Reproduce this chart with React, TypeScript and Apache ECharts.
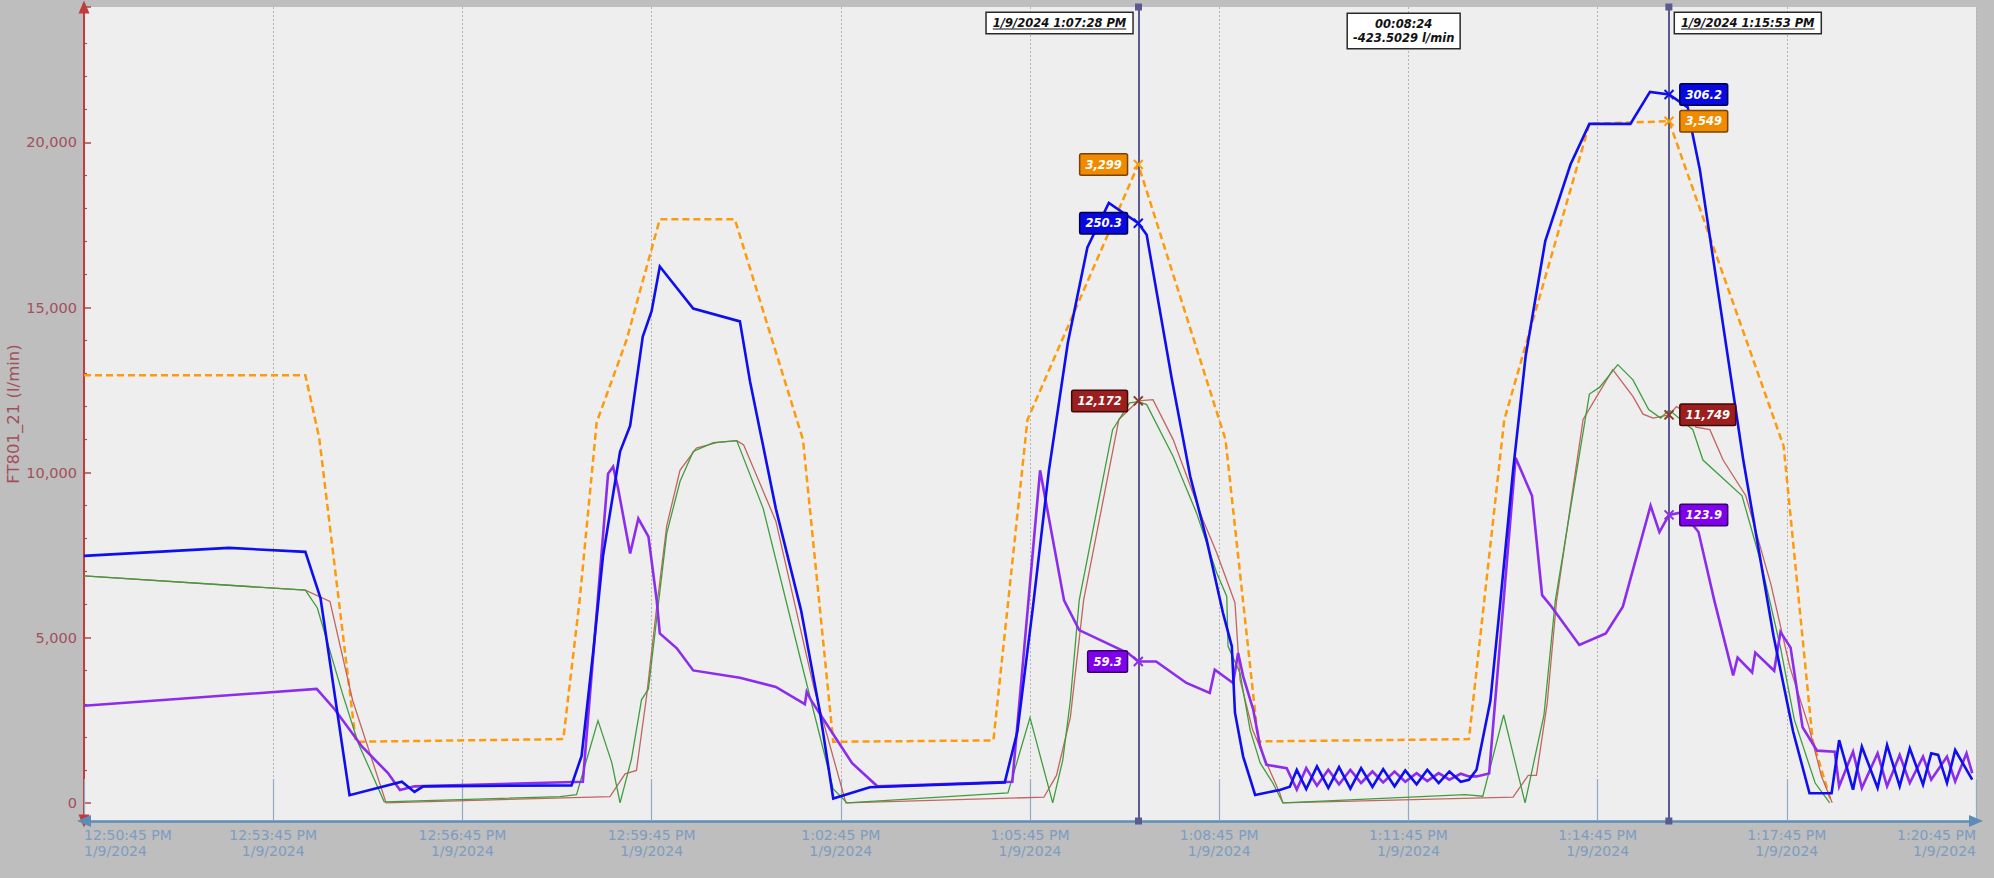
import React, { useEffect, useRef } from "react";
import * as echarts from "echarts";

type Pt = [number, number];

// x values: minutes after 12:50:45 PM on 1/9/2024
const AXIS_START_SEC = 12 * 3600 + 50 * 60 + 45;
const AXIS_DATE = "1/9/2024";
const X_SPAN_MIN = 30;
const X_STEP_MIN = 3;

const Y_MIN = -550;
const Y_MAX = 24100;
const Y_STEP = 5000;
const Y_NAME = "FT801_21 (l/min)";

const orangeSeries: Pt[] = [
  [0, 12950], [3.51, 12950], [3.73, 11050], [4.31, 1850], [7.6, 1930], [7.86, 6150], [8.13, 11530],
  [8.6, 14000], [9.13, 17670], [10.32, 17670], [11.4, 11000], [11.88, 1850], [14.42, 1890],
  [14.96, 11600], [16.717, 19330], [18.1, 11000], [18.62, 1860], [21.96, 1930], [22.52, 11600],
  [23.87, 20560], [25.133, 20640], [26.95, 10800], [27.41, 1890], [27.7, 50],
];

const blueSeries: Pt[] = [
  [0, 7480], [2.3, 7720], [3.51, 7600], [3.75, 6200], [4.21, 230], [5.04, 640], [5.24, 330], [5.38, 500],
  [7.73, 530], [7.89, 1420], [8.08, 4680], [8.23, 7480], [8.5, 10640], [8.66, 11420], [8.86, 14120],
  [9.0, 14890], [9.13, 16240], [9.66, 14970], [10.4, 14580], [10.56, 12770], [10.97, 8910], [11.37, 5830],
  [11.67, 2740], [11.88, 130], [12.46, 470], [14.6, 620], [14.8, 2160], [15.04, 5830], [15.3, 10070],
  [15.6, 13930], [15.91, 16820], [16.25, 18170], [16.717, 17550], [16.85, 17200], [17.25, 12820],
  [17.54, 9890], [17.8, 7970], [18.06, 5750], [18.2, 4740], [18.25, 2730], [18.38, 1400], [18.57, 240],
  [18.96, 390], [19.12, 490], [19.23, 1000], [19.38, 420], [19.55, 1100], [19.73, 450], [19.9, 1080],
  [20.08, 430], [20.25, 1050], [20.43, 480], [20.6, 1020], [20.78, 500], [20.95, 980], [21.13, 560],
  [21.3, 1000], [21.48, 600], [21.65, 950], [21.83, 640], [21.96, 700], [22.08, 1000], [22.3, 3090],
  [22.46, 6130], [22.66, 10070], [22.86, 13540], [23.17, 17010], [23.57, 19330], [23.87, 20560],
  [24.52, 20560], [24.83, 21530], [25.133, 21450], [25.43, 21060], [25.5, 20310], [25.62, 19190],
  [26.31, 10380], [26.79, 5050], [27.1, 2160], [27.36, 290], [27.71, 290], [27.83, 1900], [28.05, 400],
  [28.19, 1700], [28.44, 450], [28.59, 1750], [28.79, 500], [28.95, 1650], [29.16, 550], [29.29, 1500],
  [29.4, 1450], [29.54, 600], [29.67, 1600], [29.94, 700],
];

const greenSeries: Pt[] = [
  [0, 6870], [3.51, 6440], [3.7, 5900], [4.1, 3300], [4.35, 1800], [4.76, 30], [7.55, 190], [7.81, 250],
  [8.15, 2490], [8.37, 1210], [8.5, 0], [8.68, 1320], [8.84, 3120], [8.95, 3450], [9.08, 5580], [9.24, 8160],
  [9.45, 9730], [9.66, 10640], [9.98, 10910], [10.35, 10970], [10.77, 8910], [11.37, 4280], [11.88, 420],
  [12.1, 0], [14.65, 300], [15.0, 2580], [15.36, 0], [15.52, 1300], [15.64, 3100], [15.78, 6130],
  [16.31, 11300], [16.58, 12110], [16.717, 12150], [16.85, 12060], [17.27, 10490], [17.64, 8780],
  [17.96, 6970], [18.12, 6250], [18.14, 4740], [18.33, 3930], [18.49, 2210], [18.65, 1210], [18.85, 600],
  [19.01, 0], [21.9, 250], [22.18, 200], [22.51, 2660], [22.85, 0], [23.15, 2660], [23.33, 6130],
  [23.87, 12380], [24.03, 12580], [24.32, 13270], [24.56, 12810], [24.81, 11910], [25.0, 11650],
  [25.133, 11900], [25.51, 11300], [25.67, 10380], [26.29, 9300], [26.6, 7200], [26.9, 4700],
  [27.12, 2510], [27.45, 600], [27.68, 0],
];

const brownSeries: Pt[] = [
  [0, 6870], [3.51, 6440], [3.9, 6100], [4.26, 3100], [4.79, 0], [8.34, 190], [8.58, 880], [8.76, 980],
  [8.92, 3220], [9.08, 5910], [9.24, 8390], [9.45, 10070], [9.71, 10740], [10.03, 10910], [10.35, 10970],
  [10.46, 10840], [10.97, 8530], [11.57, 3510], [12.08, 0], [15.22, 170], [15.42, 830], [15.64, 2590],
  [15.85, 6130], [16.41, 11610], [16.717, 12172], [16.95, 12210], [17.27, 11000], [17.74, 8580],
  [17.96, 7570], [18.25, 6060], [18.33, 3730], [18.53, 2210], [18.75, 1210], [18.96, 300], [19.01, 0],
  [22.66, 170], [22.9, 830], [23.03, 830], [23.2, 3000], [23.35, 6130], [23.77, 11610], [24.24, 13120],
  [24.56, 12310], [24.72, 11770], [24.88, 11650], [25.133, 11749], [25.25, 12000], [25.43, 11810],
  [25.56, 11380], [25.78, 11300], [25.99, 10380], [26.35, 9300], [26.75, 6600], [27.05, 4100],
  [27.35, 2300], [27.55, 800], [27.72, 0],
];

const purpleSeries: Pt[] = [
  [0, 2940], [3.69, 3450], [3.98, 2820], [4.41, 1700], [4.82, 900], [5.01, 390], [5.24, 500], [7.91, 640],
  [8.31, 9970], [8.39, 10180], [8.47, 9510], [8.66, 7550], [8.79, 8610], [8.95, 8060], [9.08, 6150],
  [9.13, 5130], [9.4, 4680], [9.66, 4010], [10.4, 3790], [10.97, 3510], [11.43, 2990], [11.46, 3360],
  [11.53, 3100], [12.18, 1200], [12.58, 500], [14.72, 640], [15.16, 10070], [15.54, 6130], [15.78, 5230],
  [16.56, 4530], [16.717, 4280], [17.0, 4280], [17.48, 3630], [17.85, 3330], [17.93, 4030], [18.22, 3630],
  [18.3, 4540], [18.38, 3830], [18.54, 2820], [18.65, 1710], [18.75, 1150], [19.07, 1050], [19.23, 400],
  [19.38, 1050], [19.55, 520], [19.73, 1000], [19.9, 560], [20.08, 1000], [20.25, 600], [20.43, 950],
  [20.6, 620], [20.78, 950], [20.95, 640], [21.13, 900], [21.3, 660], [21.48, 900], [21.65, 700],
  [21.83, 880], [21.96, 800], [22.08, 800], [22.28, 890], [22.51, 6130], [22.7, 10450], [22.96, 9300],
  [23.12, 6290], [23.27, 5940], [23.71, 4780], [24.13, 5130], [24.4, 5940], [24.84, 9000], [24.98, 8200],
  [25.133, 8720], [25.35, 8800], [25.6, 8200], [25.85, 6130], [26.15, 3860], [26.22, 4400], [26.45, 3950],
  [26.5, 4550], [26.8, 4000], [26.9, 5170], [27.06, 4700], [27.25, 2290], [27.48, 1580], [27.76, 1550],
  [27.83, 500], [28.05, 1550], [28.19, 450], [28.44, 1500], [28.59, 500], [28.79, 1450], [28.95, 600],
  [29.16, 1400], [29.29, 700], [29.54, 1400], [29.67, 650], [29.85, 1500], [29.94, 900],
];

// cursors
const cursorTimes = [16.717, 25.133];
const cursorTimeLabels = ["1/9/2024 1:07:28 PM", "1/9/2024 1:15:53 PM"];
const deltaLabel = "00:08:24\n-423.5029 l/min";

const orangeCursorValues = [19330, 20640];
const orangeCursorTexts = ["3,299", "3,549"];
const blueCursorValues = [17550, 21450];
const blueCursorTexts = ["250.3", "306.2"];
const brownCursorValues = [12172, 11749];
const brownCursorTexts = ["12,172", "11,749"];
const purpleCursorValues = [4280, 8720];
const purpleCursorTexts = ["59.3", "123.9"];

const C = {
  orange: "#FF9A0A",
  blue: "#0E0EF0",
  green: "#3E9E3E",
  brown: "#C26460",
  purple: "#8C2CEE",
};

function pad2(n: number) {
  return n < 10 ? "0" + n : "" + n;
}
function clock(min: number) {
  const s = Math.round(AXIS_START_SEC + min * 60);
  const h = Math.floor(s / 3600);
  const m = Math.floor((s % 3600) / 60);
  const sec = s % 60;
  const h12 = h > 12 ? h - 12 : h;
  return `${h12}:${pad2(m)}:${pad2(sec)} ${h >= 12 ? "PM" : "AM"}`;
}

const FONT = '"DejaVu Sans", Verdana, sans-serif';
const BOXFONT = 'italic bold 11.5px "DejaVu Sans"';

function lineSeries(name: string, data: Pt[], color: string, width: number, dashed: boolean, z: number, extra: any = {}) {
  return {
    name,
    type: "line",
    data,
    showSymbol: false,
    symbol: "none",
    z,
    silent: true,
    lineStyle: { color, width, type: dashed ? [7, 4] : "solid", cap: "butt", join: "miter" },
    emphasis: { disabled: true },
    ...extra,
  };
}

function markerSeries(name: string, values: number[], texts: string[], stroke: string, bg: string, border: string) {
  return {
    name,
    type: "scatter",
    z: 20,
    silent: true,
    symbol: "path://M0 0L10 10M10 0L0 10",
    symbolSize: 9,
    itemStyle: { color: "rgba(0,0,0,0)", borderColor: stroke, borderWidth: 2, opacity: 1 },
    data: cursorTimes.map((t, i) => ({
      value: [t, values[i]],
      label: { position: i === 0 ? "left" : "right" },
    })),
    label: {
      show: true,
      formatter: (p: any) => texts[p.dataIndex],
      color: "#ffffff",
      fontFamily: '"DejaVu Sans"',
      fontStyle: "italic",
      fontWeight: "bold",
      fontSize: 11.5,
      lineHeight: 14,
      backgroundColor: bg,
      borderColor: border,
      borderWidth: 1.5,
      borderRadius: 1,
      padding: [3, 5, 3, 5],
      distance: 6,
    },
    emphasis: { disabled: true },
  };
}

function measure(text: string) {
  const c = document.createElement("canvas").getContext("2d");
  if (!c) return text.length * 7;
  c.font = BOXFONT;
  return c.measureText(text).width;
}

export default function App() {
  const ref = useRef<HTMLDivElement>(null);
  useEffect(() => {
    const el = ref.current;
    if (!el) return;
    const chart = echarts.init(el, undefined, { renderer: "svg" });
    const option: any = {
      animation: false,
      backgroundColor: "#BEBEBE",
      textStyle: { fontFamily: FONT },
      grid: {
        left: 84,
        right: 18,
        top: 7,
        bottom: 57,
        show: true,
        backgroundColor: "#EEEEEE",
        borderWidth: 0,
        containLabel: false,
        outerBoundsMode: "none",
      },
      xAxis: {
        type: "value",
        min: 0,
        max: X_SPAN_MIN,
        interval: X_STEP_MIN,
        axisLine: {
          show: true,
          onZero: false,
          lineStyle: { color: "#5C8CB8", width: 2.5 },
          symbol: ["triangle", "triangle"],
          symbolSize: [12, 14],
        },
        axisTick: { show: true, inside: true, length: 42, lineStyle: { color: "#93AAC6", width: 1.2 } },
        axisLabel: {
          formatter: (v: number) => `${clock(v)}\n${AXIS_DATE}`,
          color: "#7D9CC0",
          fontSize: 14,
          lineHeight: 16,
          margin: 6,
          fontFamily: FONT,
          alignMinLabel: "left",
          alignMaxLabel: "right",
        },
        splitLine: { show: true, lineStyle: { type: [2, 2], color: "#B4B4B4", width: 1 } },
      },
      yAxis: {
        type: "value",
        min: Y_MIN,
        max: Y_MAX,
        splitNumber: 5,
        minInterval: Y_STEP,
        maxInterval: Y_STEP,
        name: Y_NAME,
        nameLocation: "middle",
        nameGap: 62,
        nameMoveOverlap: false,
        nameTextStyle: { color: "#A2505A", fontSize: 16.5, fontFamily: FONT },
        axisLine: {
          show: true,
          onZero: false,
          lineStyle: { color: "#C33C3C", width: 2 },
          symbol: ["triangle", "triangle"],
          symbolSize: [11, 13],
        },
        axisTick: { show: true, inside: true, length: 7, lineStyle: { color: "#A84848", width: 1.5 } },
        minorTick: { show: true, splitNumber: 5, length: 3, lineStyle: { color: "#A84848", width: 1.2 } },
        axisLabel: {
          formatter: (v: number) => (Math.abs(v % Y_STEP) < 1e-6 ? v.toLocaleString("en-US") : ""),
          color: "#A2505A",
          fontSize: 14.5,
          margin: 7,
          fontFamily: FONT,
        },
        splitLine: { show: false },
      },
      series: [
        lineSeries("Orange", orangeSeries, C.orange, 2.5, true, 2),
        lineSeries("Brown", brownSeries, C.brown, 1.3, false, 3),
        lineSeries("Green", greenSeries, C.green, 1.3, false, 4),
        lineSeries("Purple", purpleSeries, C.purple, 2.6, false, 5),
        lineSeries("Blue", blueSeries, C.blue, 2.6, false, 6, {
          markLine: {
            silent: true,
            symbol: ["rect", "rect"],
            symbolSize: 7,
            label: { show: false },
            lineStyle: { color: "#5A5A8E", width: 2, type: "solid" },
            emphasis: { disabled: true },
            data: cursorTimes.map((t) => ({ xAxis: t })),
          },
        }),
        markerSeries("OrangeCursor", orangeCursorValues, orangeCursorTexts, C.orange, "#F08A00", "#7A4200"),
        markerSeries("BlueCursor", blueCursorValues, blueCursorTexts, C.blue, "#0808E0", "#00004A"),
        markerSeries("BrownCursor", brownCursorValues, brownCursorTexts, "#8A3A22", "#9C1E1E", "#3E0A0A"),
        markerSeries("PurpleCursor", purpleCursorValues, purpleCursorTexts, C.purple, "#7F00EA", "#35006A"),
      ],
    };
    chart.setOption(option);

    const px = cursorTimes.map((t) => chart.convertToPixel({ xAxisIndex: 0 }, t) as number);
    const padX = 6;
    const padY = 3;
    const boxTop = 13;
    const underlineY = boxTop + padY + 13;
    const w0 = measure(cursorTimeLabels[0]);
    const w1 = measure(cursorTimeLabels[1]);
    const boxStyle = {
      font: BOXFONT,
      fill: "#111111",
      backgroundColor: "#FFFFFF",
      borderColor: "#2A2A2A",
      borderWidth: 1.5,
      padding: [padY, padX, padY, padX],
      lineHeight: 14,
      verticalAlign: "top",
    };
    chart.setOption({
      graphic: [
        {
          type: "text",
          z: 100,
          x: px[0] - 6,
          y: boxTop,
          style: { ...boxStyle, text: cursorTimeLabels[0], align: "right" },
        },
        {
          type: "line",
          z: 101,
          shape: { x1: px[0] - 6 - padX - w0, y1: underlineY, x2: px[0] - 6 - padX, y2: underlineY },
          style: { stroke: "#111111", lineWidth: 1 },
        },
        {
          type: "text",
          z: 100,
          x: px[1] + 6,
          y: boxTop,
          style: { ...boxStyle, text: cursorTimeLabels[1], align: "left" },
        },
        {
          type: "line",
          z: 101,
          shape: { x1: px[1] + 6 + padX, y1: underlineY, x2: px[1] + 6 + padX + w1, y2: underlineY },
          style: { stroke: "#111111", lineWidth: 1 },
        },
        {
          type: "text",
          z: 100,
          x: (px[0] + px[1]) / 2,
          y: boxTop + 1,
          style: { ...boxStyle, text: deltaLabel, align: "center", lineHeight: 14, padding: [3, 5, 3, 5] },
        },
      ],
    });
    return () => chart.dispose();
  }, []);
  return (
    <div
      ref={ref}
      style={{ position: "fixed", left: 0, top: 0, width: 1994, height: 878, background: "#BEBEBE" }}
    />
  );
}
